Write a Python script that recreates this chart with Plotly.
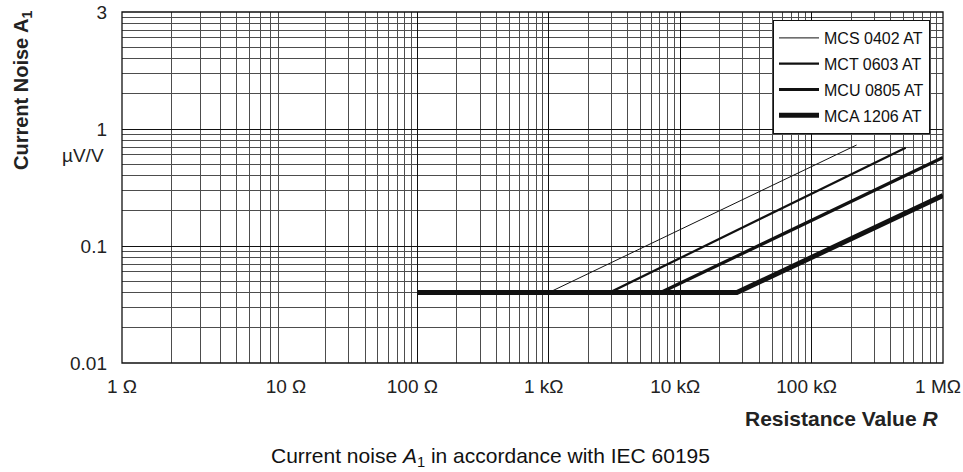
import plotly.graph_objects as go

# ---- data ----
series_names = ["MCS 0402 AT", "MCT 0603 AT", "MCU 0805 AT", "MCA 1206 AT"]
r_start = [100, 100, 100, 100]            # ohm
r_knee = [1000, 2900, 7100, 27000]        # ohm
r_end = [220000, 520000, 1000000, 1000000]
noise_floor = [0.04, 0.04, 0.04, 0.04]    # uV/V
noise_end = [0.73, 0.69, 0.57, 0.27]
line_widths = [1, 2.2, 3.2, 5]

x_tick_vals = [1, 10, 100, 1000, 10000, 100000, 1000000]
x_tick_text = ["1 \u03a9", "10 \u03a9", "100 \u03a9", "1 k\u03a9", "10 k\u03a9", "100 k\u03a9", "1 M\u03a9"]
y_tick_vals = [0.01, 0.1, 1, 10]
y_tick_text = ["0.01", "0.1", "1", "3"]

FONT = "Arial, Liberation Sans, Helvetica, sans-serif"

# geometry (pixels); the page's body margin is removed by the post script
W, H = 963, 472
L, R, T, B = 122, 943, 12, 363
PW, PH = R - L, B - T
split = (286 - L) / PW   # first decade is drawn wider in the reference


def px(xp):
    return (xp - L) / PW


def py(yp):
    return (B - yp) / PH


fig = go.Figure()
# empty trace so the first-decade axis (1 .. 10 ohm) is kept and drawn
fig.add_trace(go.Scatter(x=x_tick_vals[:2], y=[None, None], mode="lines",
                         showlegend=False, hoverinfo="skip", xaxis="x", yaxis="y"))
for i, name in enumerate(series_names):
    fig.add_trace(go.Scatter(
        x=[r_start[i], r_knee[i], r_end[i]],
        y=[noise_floor[i], noise_floor[i], noise_end[i]],
        mode="lines", name=name, legendgroup=name,
        line=dict(color="#111111", width=line_widths[i]),
        xaxis="x2", yaxis="y",
    ))

minor_1 = [m for m in range(2, 10)]
minor_2 = [m * 10 ** d for d in range(1, 6) for m in range(2, 10)]
minor_y = [m * 10 ** d for d in range(-2, 1) for m in range(2, 10)]

grid_major = "#111111"
grid_minor = "#4d4d4d"

common_x = dict(type="log", showline=False, zeroline=False, ticks="", automargin=False,
                showgrid=True, gridcolor=grid_major, gridwidth=1.3,
                tickfont=dict(family=FONT, size=19, color="#222"),
                ticklabelstandoff=10, ticklabeloverflow="allow")

fig.update_layout(
    width=W, height=H,
    margin=dict(l=L, r=W - R, t=T, b=H - B, autoexpand=False),
    paper_bgcolor="white", plot_bgcolor="white",
    showlegend=True,
    xaxis=dict(common_x, range=[0, 1], domain=[0, split], anchor="y",
               tickvals=x_tick_vals[:2], ticktext=x_tick_text[:2],
               minor=dict(tickvals=minor_1, showgrid=True, gridcolor=grid_minor,
                          gridwidth=1.2, ticks="")),
    xaxis2=dict(common_x, range=[1, 6], domain=[split, 1], anchor="y",
                tickvals=x_tick_vals[2:], ticktext=x_tick_text[2:],
                ticklabelshift=-5,
                minor=dict(tickvals=minor_2, showgrid=True, gridcolor=grid_minor,
                           gridwidth=1.2, ticks="")),
    yaxis=dict(type="log", range=[-2, 1], anchor="x", showline=False, zeroline=False,
               automargin=False, ticklabeloverflow="allow",
               ticks="", tickvals=y_tick_vals, ticktext=y_tick_text,
               showgrid=True, gridcolor=grid_major, gridwidth=1.3,
               tickfont=dict(family=FONT, size=19, color="#222"),
               ticklabelstandoff=14,
               minor=dict(tickvals=minor_y, showgrid=True, gridcolor=grid_minor,
                          gridwidth=1.2, ticks="")),
    legend=dict(x=px(930), y=py(20), xanchor="right", yanchor="top",
                bgcolor="white", bordercolor="#111", borderwidth=1,
                font=dict(family=FONT, size=16, color="#111"),
                tracegroupgap=2, itemwidth=40, entrywidth=120),
    shapes=[dict(type="rect", xref="paper", yref="paper", x0=0, x1=1, y0=0, y1=1,
                 line=dict(color="#111", width=1.3), layer="above")],
    annotations=[
        dict(xref="paper", yref="y", x=0, y=0, text="\u00b5V/V", showarrow=False,
             xanchor="right", yanchor="middle", xshift=-16, yshift=-26,
             font=dict(family=FONT, size=19, color="#222")),
        dict(xref="paper", yref="paper", x=px(22), y=py(90),
             text="<b>Current Noise A<sub>1</sub></b>", textangle=-90, showarrow=False,
             xanchor="center", yanchor="middle",
             font=dict(family=FONT, size=20, color="#222")),
        dict(xref="paper", yref="paper", x=px(940), y=py(418),
             text="<b>Resistance Value <i>R</i></b>", showarrow=False,
             xanchor="right", yanchor="middle",
             font=dict(family=FONT, size=21, color="#222")),
        dict(xref="paper", yref="paper", x=px(490), y=py(457),
             text="Current noise <i>A</i><sub>1</sub> in accordance with IEC 60195",
             showarrow=False, xanchor="center", yanchor="middle",
             font=dict(family=FONT, size=21, color="#111")),
    ],
)

fig.write_html("out.html", config={"displayModeBar": False},
               post_script="document.body.style.margin='0';document.body.style.overflow='hidden';")
